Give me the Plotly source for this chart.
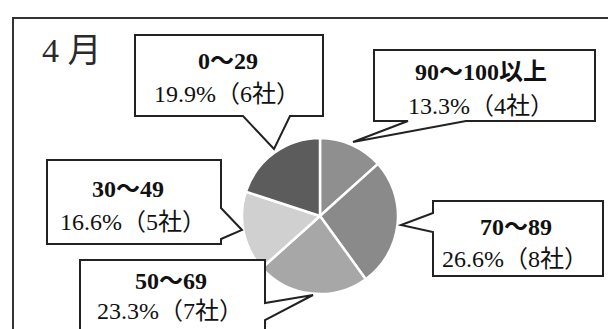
import plotly.graph_objects as go

# ---- data ----
labels = ["90～100以上", "70～89", "50～69", "30～49", "0～29"]
percents = [13.3, 26.6, 23.3, 16.6, 19.9]
companies = [4, 8, 7, 5, 6]
colors = ["#8f8f8f", "#8a8a8a", "#a7a7a7", "#d0d0d0", "#5c5c5c"]
title_text = "4 月"

W, H = 616, 329
cx, cy, r = 312, 208, 78

fig = go.Figure()
fig.add_trace(go.Pie(
    labels=labels, values=percents, sort=False, direction="clockwise",
    rotation=0, textinfo="none", hoverinfo="label+percent",
    marker=dict(colors=colors, line=dict(color="white", width=2.5)),
    domain=dict(x=[(cx - r) / W, (cx + r) / W], y=[(H - cy - r) / H, (H - cy + r) / H]),
    showlegend=False,
))

# callout geometry (pixel coords, y from top)
callouts = {
    "0～29": dict(path=[(127, 27), (315, 27), (315, 108), (282, 108), (266, 141), (235, 108), (127, 108)],
                 l1=(220, 53), l2=(144, 86)),
    "90～100以上": dict(path=[(366, 42), (587, 42), (587, 113), (458, 113), (345, 134), (400, 113), (366, 113)],
                    l1=(473, 64), l2=(398, 98)),
    "30～49": dict(path=[(39, 152), (213, 152), (213, 200), (234, 222), (213, 231), (213, 236), (39, 236)],
                  l1=(120, 181), l2=(50, 214)),
    "70～89": dict(path=[(425, 193), (595, 193), (595, 268), (425, 268), (425, 224), (393, 217), (425, 205)],
                  l1=(508, 219), l2=(432, 251)),
    "50～69": dict(path=[(72, 252), (257, 252), (257, 295), (305, 287), (257, 312), (257, 323), (72, 323)],
                  l1=(163, 273), l2=(87, 303)),
}

shapes = [dict(type="rect", xref="x", yref="y", x0=5, y0=10, x1=630, y1=345,
               line=dict(color="#333333", width=2), fillcolor="rgba(0,0,0,0)", layer="below")]
annotations = []
font_family = "Liberation Serif, DejaVu Serif, Noto Sans CJK JP, serif"
for lab, pct, n in zip(labels, percents, companies):
    c = callouts[lab]
    p = "M " + " L ".join(f"{x},{y}" for x, y in c["path"]) + " Z"
    shapes.append(dict(type="path", xref="x", yref="y", path=p,
                       line=dict(color="#222222", width=2), fillcolor="white", layer="above"))
    annotations.append(dict(x=c["l1"][0], y=c["l1"][1], xref="x", yref="y", text=f"<b>{lab}</b>",
                            showarrow=False, xanchor="center", yanchor="middle",
                            font=dict(family=font_family, size=24, color="#111111")))
    annotations.append(dict(x=c["l2"][0], y=c["l2"][1], xref="x", yref="y", text=f"{pct}%（{n}社）",
                            showarrow=False, xanchor="left", yanchor="middle",
                            font=dict(family=font_family, size=24, color="#111111")))

annotations.append(dict(x=32, y=42, xref="x", yref="y", text=title_text, showarrow=False,
                        xanchor="left", yanchor="middle",
                        font=dict(family=font_family, size=34, color="#2a2a2a")))

fig.update_layout(
    width=W, height=H, margin=dict(l=0, r=0, t=0, b=0),
    paper_bgcolor="white", plot_bgcolor="rgba(0,0,0,0)",
    xaxis=dict(range=[0, W], visible=False, fixedrange=True),
    yaxis=dict(range=[H, 0], visible=False, fixedrange=True),
    shapes=shapes, annotations=annotations,
)
fig.write_html("out.html")
